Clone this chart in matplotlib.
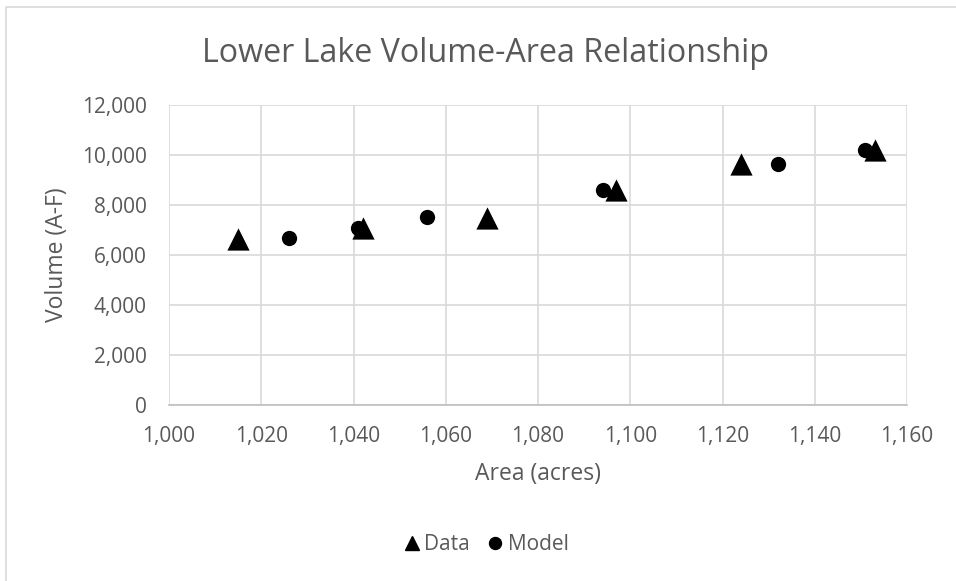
import matplotlib
matplotlib.use("Agg")
import matplotlib.pyplot as plt
from matplotlib.ticker import FuncFormatter, MultipleLocator
from matplotlib.lines import Line2D

plt.rcParams['font.family'] = ['Open Sans', 'DejaVu Sans']

# lake survey points (acres, acre-feet)
data_area = [1015, 1042, 1069, 1097, 1124, 1153]
data_volume = [6650, 7090, 7500, 8590, 9650, 10200]
# fitted volume-area model
model_area = [1026, 1041, 1056, 1094, 1132, 1151]
model_volume = [6670, 7100, 7520, 8600, 9660, 10210]

W, H = 956, 581
grey = '#595959'

fig = plt.figure(figsize=(W / 100, H / 100), dpi=100)
ax = fig.add_axes([169 / W, 1 - 405 / H, (907 - 169) / W, 300 / H])

ax.scatter(model_area, model_volume, marker='o', s=11 ** 2, color='black',
           linewidths=0, zorder=3, label='Model')
ax.scatter(data_area, data_volume, marker='^', s=16 ** 2, color='black',
           linewidths=0, zorder=4, label='Data')

ax.set_xlim(1000, 1160)
ax.set_ylim(0, 12000)
ax.xaxis.set_major_locator(MultipleLocator(20))
ax.yaxis.set_major_locator(MultipleLocator(2000))
comma = FuncFormatter(lambda v, p: f'{v:,.0f}')
ax.xaxis.set_major_formatter(comma)
ax.yaxis.set_major_formatter(comma)

ax.grid(True, color='#d9d9d9', linewidth=1.2)
ax.set_axisbelow(True)
for side in ('top', 'right', 'left'):
    ax.spines[side].set_visible(False)
ax.spines['bottom'].set_color('#bfbfbf')
ax.spines['bottom'].set_linewidth(1.2)
ax.tick_params(length=0, labelsize=15, labelcolor=grey)
ax.tick_params(axis='x', pad=15)
ax.tick_params(axis='y', pad=16)

ax.set_xlabel('Area (acres)', fontsize=16.5, color=grey)
ax.set_ylabel('Volume (A-F)', fontsize=16.5, color=grey)
ax.xaxis.set_label_coords(0.5, -(462 - 405) / 300)
ax.yaxis.set_label_coords(-(169 - 69) / 738, 0.5)

fig.text(485 / W, 1 - 62 / H, 'Lower Lake Volume-Area Relationship',
         ha='center', va='baseline', fontsize=23.2, color=grey)

handles = [Line2D([], [], marker='^', color='black', linestyle='none', markersize=10),
           Line2D([], [], marker='o', color='black', linestyle='none', markersize=8.6)]
fig.legend(handles, ['Data', 'Model'], loc='center', bbox_to_anchor=(486 / W, 1 - 545 / H),
           ncol=2, frameon=False, fontsize=15, labelcolor=grey,
           handlelength=0.8, handletextpad=0.2, columnspacing=0.8)

# chart frame
fig.add_artist(Line2D([5.5 / W, 5.5 / W, 1], [0, 1 - 6.5 / H, 1 - 6.5 / H],
                      transform=fig.transFigure, color='#d9d9d9', linewidth=1.2))

fig.savefig('out.png', dpi=100)
